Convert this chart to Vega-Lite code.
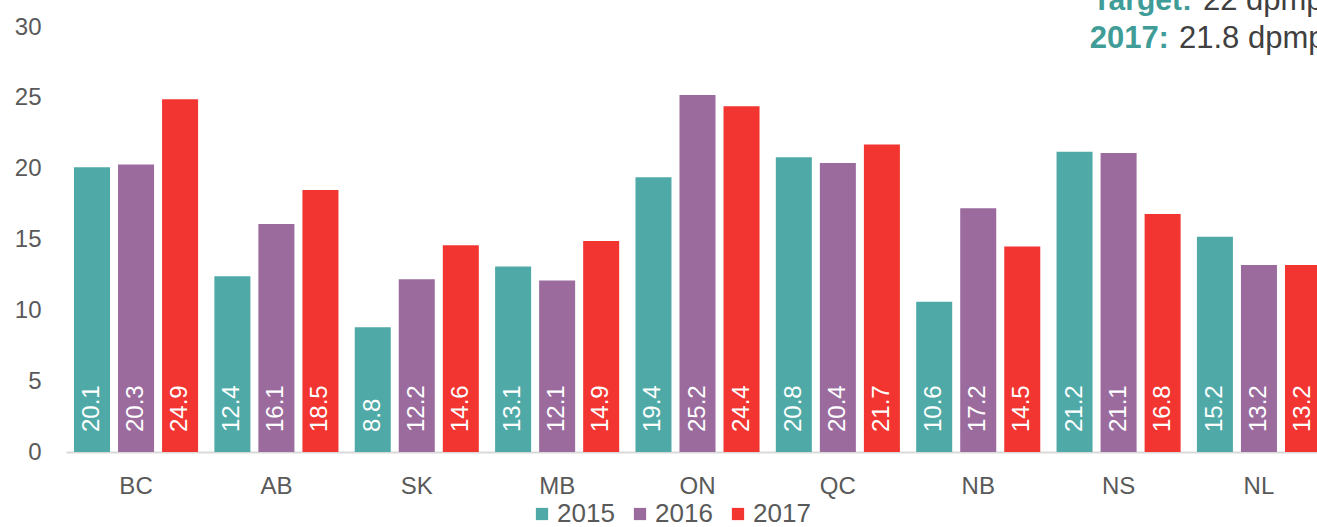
{
  "$schema": "https://vega.github.io/schema/vega-lite/v6.json",
  "autosize": {"type": "none"},
  "padding": {"left": 66, "top": 27, "right": 0, "bottom": 75},
  "width": 1251,
  "height": 425,
  "background": "white",
  "config": {
    "view": {"stroke": null},
    "font": "Liberation Sans",
    "axis": {"labelFont": "Liberation Sans", "labelFontSize": 24, "labelColor": "#595959", "grid": false, "ticks": false, "tickSize": 0, "title": null}
  },
  "data": {
    "values": [
      {"province": "BC", "year": "2015", "rate": 20.1},
      {"province": "BC", "year": "2016", "rate": 20.3},
      {"province": "BC", "year": "2017", "rate": 24.9},
      {"province": "AB", "year": "2015", "rate": 12.4},
      {"province": "AB", "year": "2016", "rate": 16.1},
      {"province": "AB", "year": "2017", "rate": 18.5},
      {"province": "SK", "year": "2015", "rate": 8.8},
      {"province": "SK", "year": "2016", "rate": 12.2},
      {"province": "SK", "year": "2017", "rate": 14.6},
      {"province": "MB", "year": "2015", "rate": 13.1},
      {"province": "MB", "year": "2016", "rate": 12.1},
      {"province": "MB", "year": "2017", "rate": 14.9},
      {"province": "ON", "year": "2015", "rate": 19.4},
      {"province": "ON", "year": "2016", "rate": 25.2},
      {"province": "ON", "year": "2017", "rate": 24.4},
      {"province": "QC", "year": "2015", "rate": 20.8},
      {"province": "QC", "year": "2016", "rate": 20.4},
      {"province": "QC", "year": "2017", "rate": 21.7},
      {"province": "NB", "year": "2015", "rate": 10.6},
      {"province": "NB", "year": "2016", "rate": 17.2},
      {"province": "NB", "year": "2017", "rate": 14.5},
      {"province": "NS", "year": "2015", "rate": 21.2},
      {"province": "NS", "year": "2016", "rate": 21.1},
      {"province": "NS", "year": "2017", "rate": 16.8},
      {"province": "NL", "year": "2015", "rate": 15.2},
      {"province": "NL", "year": "2016", "rate": 13.2},
      {"province": "NL", "year": "2017", "rate": 13.2}
    ]
  },
  "encoding": {
    "x": {
      "field": "province", "type": "nominal", "sort": null,
      "scale": {"range": [0, 1263], "paddingInner": 0.116, "paddingOuter": 0.057},
      "axis": {"labelAngle": 0, "labelPadding": 22, "domainColor": "#d9d9d9", "domainWidth": 2}
    },
    "xOffset": {"field": "year", "type": "nominal", "scale": {"paddingInner": 0.182, "paddingOuter": 0}}
  },
  "layer": [
    {
      "mark": {"type": "bar"},
      "encoding": {
        "y": {
          "field": "rate", "type": "quantitative",
          "scale": {"domain": [0, 30], "nice": false},
          "axis": {"values": [0, 5, 10, 15, 20, 25, 30], "domain": false, "labelPadding": 25}
        },
        "color": {
          "field": "year", "type": "nominal",
          "scale": {"domain": ["2015", "2016", "2017"], "range": ["#4faaa7", "#9b6b9e", "#f23530"]},
          "legend": {
            "title": null, "orient": "none", "legendX": 463, "legendY": 474, "direction": "horizontal",
            "symbolType": "square", "symbolSize": 150, "symbolStrokeWidth": 0,
            "labelFontSize": 26, "labelColor": "#595959", "labelFont": "Liberation Sans",
            "labelOffset": 2, "columnPadding": 12
          }
        }
      }
    },
    {
      "mark": {"type": "text", "angle": 270, "align": "left", "baseline": "middle", "dx": 20, "fontSize": 24, "color": "white", "font": "Liberation Sans"},
      "encoding": {
        "y": {"datum": 0, "type": "quantitative"},
        "text": {"field": "rate", "type": "quantitative", "format": ".1f"}
      }
    },
    {
      "data": {"values": [{"label": "Target:", "value": "22 dpmp"}]},
      "mark": {"type": "text", "align": "right", "baseline": "alphabetic", "dx": -67, "fontSize": 30, "fontWeight": "bold", "color": "#3f9c97", "font": "Liberation Sans"},
      "encoding": {"x": {"datum": "NL"}, "xOffset": null, "y": {"datum": 31.2, "type": "quantitative"}, "text": {"field": "label"}}
    },
    {
      "data": {"values": [{"label": "Target:", "value": "22 dpmp"}]},
      "mark": {"type": "text", "align": "left", "baseline": "alphabetic", "dx": -56, "fontSize": 31, "color": "#404040", "font": "Liberation Sans"},
      "encoding": {"x": {"datum": "NL"}, "xOffset": null, "y": {"datum": 31.2, "type": "quantitative"}, "text": {"field": "value"}}
    },
    {
      "data": {"values": [{"label": "2017:", "value": "21.8 dpmp"}]},
      "mark": {"type": "text", "align": "right", "baseline": "alphabetic", "dx": -90, "fontSize": 31, "fontWeight": "bold", "color": "#3f9c97", "font": "Liberation Sans"},
      "encoding": {"x": {"datum": "NL"}, "xOffset": null, "y": {"datum": 28.52, "type": "quantitative"}, "text": {"field": "label"}}
    },
    {
      "data": {"values": [{"label": "2017:", "value": "21.8 dpmp"}]},
      "mark": {"type": "text", "align": "left", "baseline": "alphabetic", "dx": -80, "fontSize": 31, "color": "#404040", "font": "Liberation Sans"},
      "encoding": {"x": {"datum": "NL"}, "xOffset": null, "y": {"datum": 28.52, "type": "quantitative"}, "text": {"field": "value"}}
    }
  ]
}
